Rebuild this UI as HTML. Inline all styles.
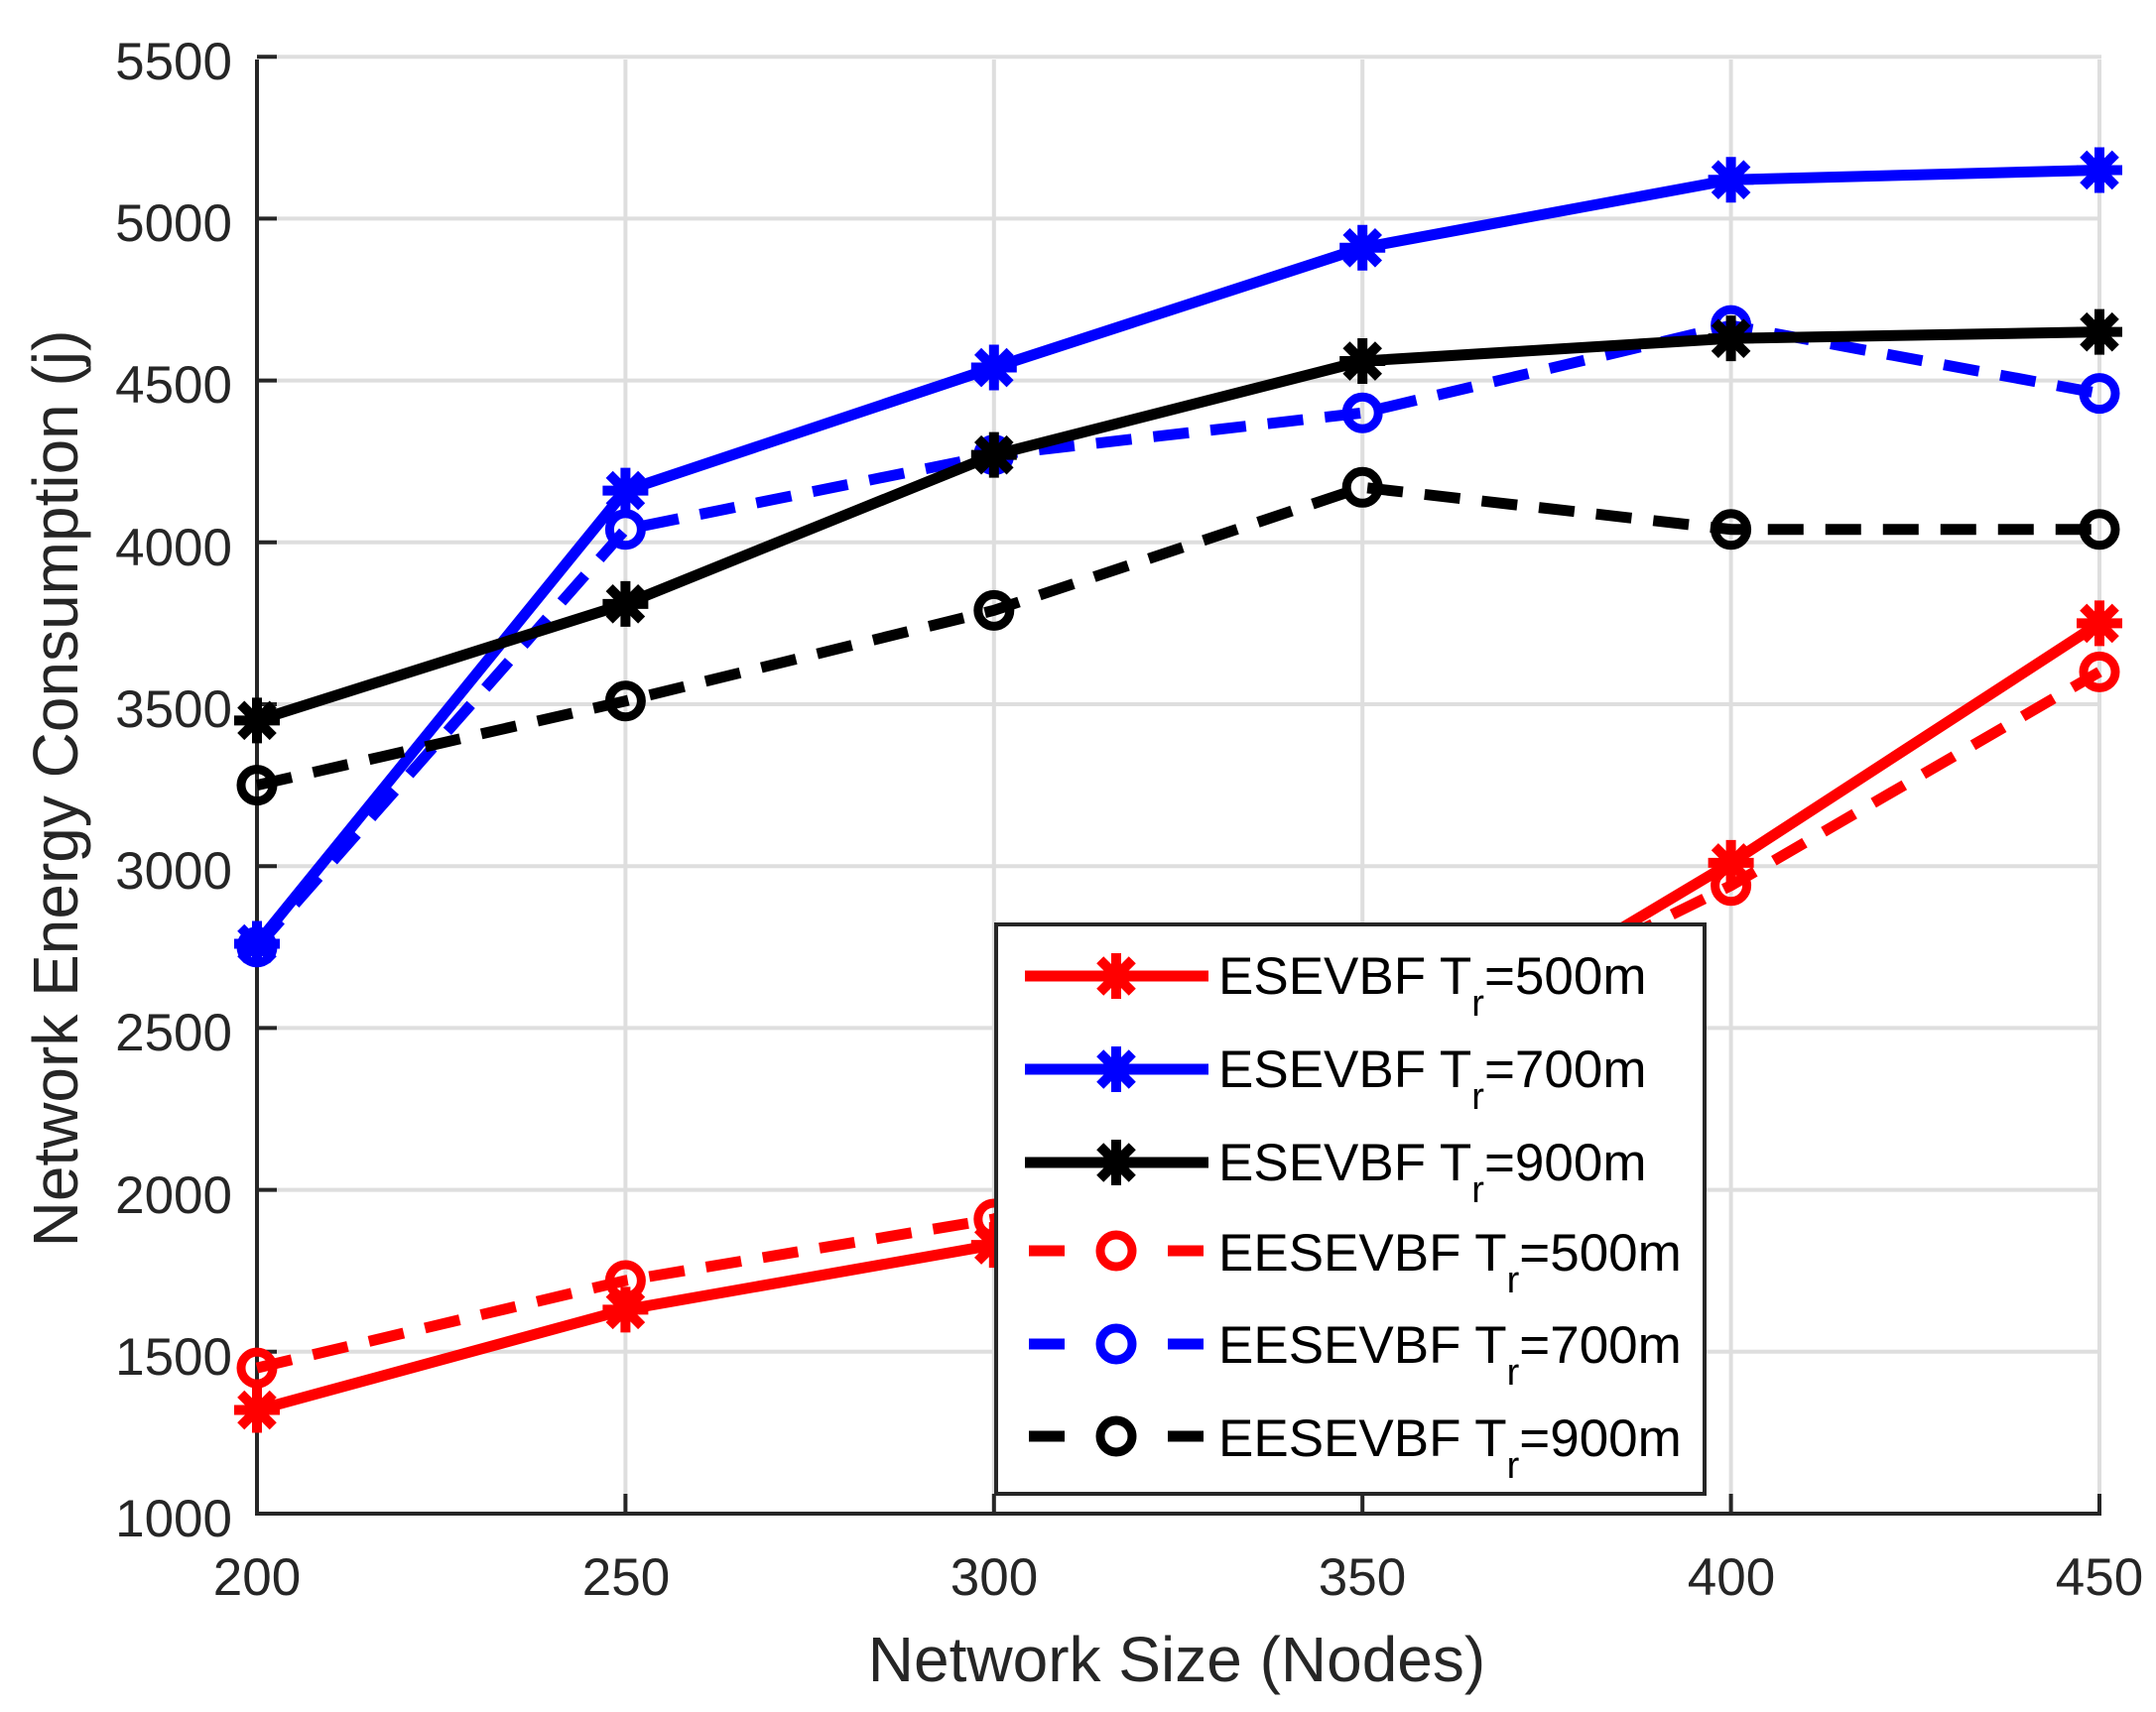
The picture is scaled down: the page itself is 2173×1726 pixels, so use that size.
<!DOCTYPE html>
<html><head><meta charset="utf-8"><style>
html,body{margin:0;padding:0;background:#fff;}
svg{display:block;font-family:"Liberation Sans",Arial,sans-serif;}
</style></head><body>
<svg id="s" width="2173" height="1726" viewBox="0 0 2173 1726" xmlns="http://www.w3.org/2000/svg">
<rect width="2173" height="1726" fill="#fff"/>
<g id="grid" stroke="#dedede" stroke-width="4"></g>
<g id="axes" stroke="#262626" stroke-width="4" fill="none">
<line x1="259" y1="60" x2="259" y2="1528"/>
<line x1="257" y1="1526" x2="2118" y2="1526"/>
</g>
<g fill="#262626" font-size="53" text-anchor="end">
<text x="234" y="1549">1000</text>
<text x="234" y="1386">1500</text>
<text x="234" y="1223">2000</text>
<text x="234" y="1059">2500</text>
<text x="234" y="896">3000</text>
<text x="234" y="733">3500</text>
<text x="234" y="570">4000</text>
<text x="234" y="406">4500</text>
<text x="234" y="243">5000</text>
<text x="234" y="80">5500</text>
</g>
<g fill="#262626" font-size="53" text-anchor="middle">
<text x="259" y="1608">200</text>
<text x="631" y="1608">250</text>
<text x="1002" y="1608">300</text>
<text x="1373" y="1608">350</text>
<text x="1745" y="1608">400</text>
<text x="2116" y="1608">450</text>
</g>
<text x="1186" y="1695" font-size="64" fill="#262626" text-anchor="middle">Network Size (Nodes)</text>
<text transform="translate(78,795) rotate(-90)" font-size="64" fill="#262626" text-anchor="middle">Network Energy Consumption (j)</text>
<g id="series"></g>
<rect x="1004" y="932" width="714" height="574" fill="#fff" stroke="#262626" stroke-width="4"/>
<g id="leg"></g>
<g font-size="53" fill="#000">
<text x="1228" y="1002">ESEVBF T<tspan font-size="38" dy="22">r</tspan><tspan dy="-22">=500m</tspan></text>
<text x="1228" y="1096">ESEVBF T<tspan font-size="38" dy="22">r</tspan><tspan dy="-22">=700m</tspan></text>
<text x="1228" y="1190">ESEVBF T<tspan font-size="38" dy="22">r</tspan><tspan dy="-22">=900m</tspan></text>
<text x="1228" y="1281">EESEVBF  T<tspan font-size="38" dy="22">r</tspan><tspan dy="-22">=500m</tspan></text>
<text x="1228" y="1374">EESEVBF  T<tspan font-size="38" dy="22">r</tspan><tspan dy="-22">=700m</tspan></text>
<text x="1228" y="1468">EESEVBF  T<tspan font-size="38" dy="22">r</tspan><tspan dy="-22">=900m</tspan></text>
</g>
</svg>
<script>
var NS="http://www.w3.org/2000/svg";
function el(p,t,a){var e=document.createElementNS(NS,t);for(var k in a)e.setAttribute(k,a[k]);p.appendChild(e);return e;}
function X(n){return 259+(n-200)*7.428;}
function Y(v){return 1526-(v-1000)*0.3264;}
var grid=document.getElementById('grid');
for(var n=250;n<=450;n+=50)el(grid,'line',{x1:X(n),y1:60,x2:X(n),y2:1526});
for(var v=1500;v<=5500;v+=500)el(grid,'line',{x1:259,y1:Y(v),x2:2118,y2:Y(v)});
var ax=document.getElementById('axes');
for(var n=250;n<=450;n+=50)el(ax,'line',{x1:X(n),y1:1526,x2:X(n),y2:1506});
for(var v=1500;v<=5500;v+=500)el(ax,'line',{x1:259,y1:Y(v),x2:279,y2:Y(v)});
var xs=[200,250,300,350,400,450];
var S=[
{c:'#ff0000',d:0,m:'*',v:[1320,1630,1830,2330,3010,3750]},
{c:'#ff0000',d:1,m:'o',v:[1450,1720,1910,2380,2940,3600]},
{c:'#0000ff',d:0,m:'*',v:[2760,4160,4540,4910,5120,5150]},
{c:'#0000ff',d:1,m:'o',v:[2750,4040,4270,4400,4670,4460]},
{c:'#000000',d:0,m:'*',v:[3450,3810,4270,4560,4630,4650]},
{c:'#000000',d:1,m:'o',v:[3250,3510,3790,4170,4040,4040]}];
function star(g,x,y,c){var r=23;for(var i=0;i<4;i++){var a=i*Math.PI/4;el(g,'line',{x1:x-r*Math.cos(a),y1:y-r*Math.sin(a),x2:x+r*Math.cos(a),y2:y+r*Math.sin(a),stroke:c,'stroke-width':10});}}
function circ(g,x,y,c){el(g,'circle',{cx:x,cy:y,r:16,fill:'none',stroke:c,'stroke-width':9});}
var sg=document.getElementById('series');
S.forEach(function(s){
 var pts=xs.map(function(n,i){return X(n)+','+Y(s.v[i]);}).join(' ');
 var a={points:pts,fill:'none',stroke:s.c,'stroke-width':11};
 if(s.d)a['stroke-dasharray']='36 22';
 el(sg,'polyline',a);
 xs.forEach(function(n,i){(s.m=='*'?star:circ)(sg,X(n),Y(s.v[i]),s.c);});
});
var lg=document.getElementById('leg');
var order=[S[0],S[2],S[4],S[1],S[3],S[5]];var ly=[984,1078,1172,1261,1355,1448];
order.forEach(function(s,i){
 var y=ly[i];
 if(s.d){el(lg,'line',{x1:1037,y1:y,x2:1073,y2:y,stroke:s.c,'stroke-width':11});el(lg,'line',{x1:1177,y1:y,x2:1213,y2:y,stroke:s.c,'stroke-width':11});circ(lg,1125,y,s.c);}
 else{el(lg,'line',{x1:1033,y1:y,x2:1218,y2:y,stroke:s.c,'stroke-width':11});star(lg,1125,y,s.c);}
});
</script>
</body></html>
